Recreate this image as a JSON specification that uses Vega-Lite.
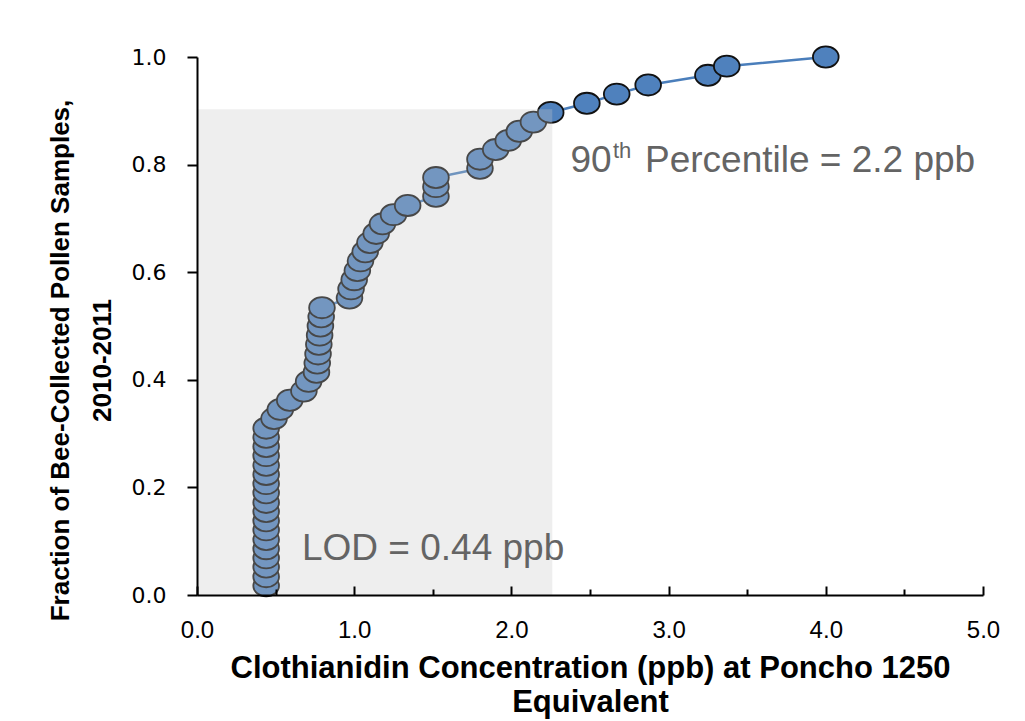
{
  "$schema": "https://vega.github.io/schema/vega-lite/v6.json",
  "width": 786,
  "height": 538,
  "autosize": {"type": "none"},
  "padding": {"left": 197, "top": 57, "right": 42, "bottom": 126},
  "background": "white",
  "config": {"view": {"stroke": null}},
  "datasets": {
    "pts": [
      {"x": 0.44, "y": 0.017}, {"x": 0.44, "y": 0.034}, {"x": 0.44, "y": 0.052}, {"x": 0.44, "y": 0.069},
      {"x": 0.44, "y": 0.086}, {"x": 0.44, "y": 0.103}, {"x": 0.44, "y": 0.121}, {"x": 0.44, "y": 0.138},
      {"x": 0.44, "y": 0.155}, {"x": 0.44, "y": 0.172}, {"x": 0.44, "y": 0.19}, {"x": 0.44, "y": 0.207},
      {"x": 0.44, "y": 0.224}, {"x": 0.44, "y": 0.241}, {"x": 0.44, "y": 0.259}, {"x": 0.44, "y": 0.276},
      {"x": 0.44, "y": 0.293}, {"x": 0.44, "y": 0.31}, {"x": 0.49, "y": 0.328}, {"x": 0.53, "y": 0.345},
      {"x": 0.59, "y": 0.362}, {"x": 0.68, "y": 0.379}, {"x": 0.71, "y": 0.397}, {"x": 0.76, "y": 0.414},
      {"x": 0.765, "y": 0.431}, {"x": 0.77, "y": 0.448}, {"x": 0.775, "y": 0.466}, {"x": 0.78, "y": 0.483},
      {"x": 0.785, "y": 0.5}, {"x": 0.79, "y": 0.517}, {"x": 0.795, "y": 0.534}, {"x": 0.97, "y": 0.552},
      {"x": 0.98, "y": 0.569}, {"x": 1.0, "y": 0.586}, {"x": 1.02, "y": 0.603}, {"x": 1.04, "y": 0.621},
      {"x": 1.07, "y": 0.638}, {"x": 1.1, "y": 0.655}, {"x": 1.14, "y": 0.672}, {"x": 1.18, "y": 0.69},
      {"x": 1.25, "y": 0.707}, {"x": 1.34, "y": 0.724}, {"x": 1.52, "y": 0.741}, {"x": 1.52, "y": 0.759},
      {"x": 1.52, "y": 0.776}, {"x": 1.8, "y": 0.793}, {"x": 1.8, "y": 0.81}, {"x": 1.9, "y": 0.828},
      {"x": 1.98, "y": 0.845}, {"x": 2.05, "y": 0.862}, {"x": 2.14, "y": 0.879}, {"x": 2.25, "y": 0.897},
      {"x": 2.48, "y": 0.914}, {"x": 2.67, "y": 0.931}, {"x": 2.87, "y": 0.948}, {"x": 3.25, "y": 0.966},
      {"x": 3.37, "y": 0.983}, {"x": 4.0, "y": 1.0}
    ],
    "shade": [{"x": 0, "x2": 2.26, "y": 0, "y2": 0.903}],
    "big": [
      {"x": 2.376, "y": 0.786, "text": "90"},
      {"x": 2.85, "y": 0.786, "text": "Percentile = 2.2 ppb"},
      {"x": 0.668, "y": 0.065, "text": "LOD = 0.44 ppb"}
    ],
    "sup": [{"x": 2.646, "y": 0.812, "text": "th"}]
  },
  "layer": [
    {
      "data": {"name": "pts"},
      "mark": {"type": "line", "color": "#4a7ebb", "strokeWidth": 2.5},
      "encoding": {
        "x": {
          "field": "x", "type": "quantitative",
          "scale": {"domain": [0, 5], "nice": false, "zero": false},
          "axis": {
            "values": [0, 0.5, 1, 1.5, 2, 2.5, 3, 3.5, 4, 4.5, 5],
            "labelExpr": "datum.value % 1 === 0 ? format(datum.value, '.1f') : ''",
            "grid": false,
            "zindex": 1,
            "domainColor": "black", "domainWidth": 2,
            "tickColor": "black", "tickWidth": 2,
            "tickSize": {"condition": {"test": "datum.value % 1 === 0", "value": -9}, "value": -6},
            "labelFont": "Liberation Sans", "labelFontSize": 24, "labelColor": "black",
            "labelPadding": 32, "labelFlush": false,
            "title": ["Clothianidin Concentration (ppb) at Poncho 1250", "Equivalent"],
            "titleFont": "Liberation Sans", "titleFontSize": 31, "titleFontWeight": "bold",
            "titleColor": "black", "titleLineHeight": 34,
            "titleBaseline": "alphabetic", "titleAnchor": "middle",
            "titleX": 393, "titleY": 82
          }
        },
        "y": {
          "field": "y", "type": "quantitative",
          "scale": {"domain": [0, 1], "nice": false},
          "axis": {
            "values": [0, 0.2, 0.4, 0.6, 0.8, 1.0],
            "format": ".1f",
            "grid": false,
            "zindex": 1,
            "domainColor": "black", "domainWidth": 2,
            "tickColor": "black", "tickWidth": 2, "tickSize": 10,
            "labelFont": "DejaVu Sans", "labelFontSize": 22, "labelColor": "black",
            "labelPadding": 21,
            "title": ["Fraction of Bee-Collected Pollen Samples,", "2010-2011"],
            "titleFont": "Liberation Sans", "titleFontSize": 26, "titleFontWeight": "bold",
            "titleColor": "black", "titleLineHeight": 42,
            "titleBaseline": "middle", "titleAlign": "center", "titleAngle": -90,
            "titleX": -137, "titleY": 303
          }
        },
        "order": {"field": "y", "type": "quantitative"}
      }
    },
    {
      "data": {"name": "pts"},
      "mark": {
        "type": "point", "filled": true, "fill": "#4f81bd", "opacity": 1,
        "stroke": "#111111", "strokeWidth": 1.8,
        "shape": "M-1,0A1,0.82,0,1,1,1,0A1,0.82,0,1,1,-1,0Z",
        "size": 660
      },
      "encoding": {
        "x": {"field": "x", "type": "quantitative"},
        "y": {"field": "y", "type": "quantitative"}
      }
    },
    {
      "data": {"name": "shade"},
      "mark": {"type": "rect", "color": "#c6c6c6", "opacity": 0.3},
      "encoding": {
        "x": {"field": "x", "type": "quantitative"},
        "x2": {"field": "x2"},
        "y": {"field": "y", "type": "quantitative"},
        "y2": {"field": "y2"}
      }
    },
    {
      "data": {"name": "big"},
      "mark": {"type": "text", "font": "Liberation Sans", "fontSize": 37, "color": "#646464", "align": "left", "baseline": "alphabetic"},
      "encoding": {
        "x": {"field": "x", "type": "quantitative"},
        "y": {"field": "y", "type": "quantitative"},
        "text": {"field": "text"}
      }
    },
    {
      "data": {"name": "sup"},
      "mark": {"type": "text", "font": "Liberation Sans", "fontSize": 22, "color": "#646464", "align": "left", "baseline": "alphabetic"},
      "encoding": {
        "x": {"field": "x", "type": "quantitative"},
        "y": {"field": "y", "type": "quantitative"},
        "text": {"field": "text"}
      }
    }
  ]
}
